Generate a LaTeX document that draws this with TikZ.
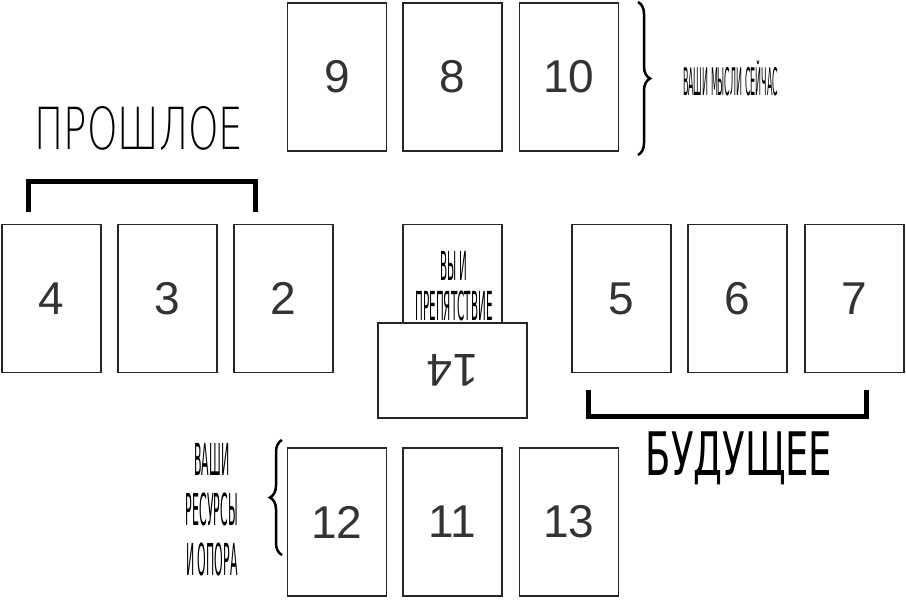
\documentclass[tikz,border=0pt]{standalone}
\usepackage{fontspec}
\setmainfont{Liberation Sans}
\newfontfamily\cond{DejaVu Sans}
\newfontfamily\thinf{DejaVu Sans}[UprightFont=* ExtraLight]
\usetikzlibrary{decorations.pathreplacing}
\begin{document}
\begin{tikzpicture}[x=1pt,y=-1pt,
  card/.style={draw=black!85,line width=1.5pt,fill=white,minimum width=99pt,minimum height=148pt,inner sep=0pt,font=\fontsize{46}{46}\selectfont,text=black!80},
  lbl/.style={font=\cond\fontsize{34}{34}\selectfont,xscale=0.5,align=center,inner sep=0pt},
  bigl/.style={font=\thinf\fontsize{58}{58}\selectfont,xscale=0.67,inner sep=0pt}]
\useasboundingbox (0,0) rectangle (906,600);
\fill[white] (0,0) rectangle (906,600);
\node[card] (c9) at (337,77) {9};
\node[card] (c8) at (452.5,77) {8};
\node[card] (c10) at (569,77) {10};
\node[card] (c4) at (51.5,298.5) {4};
\node[card] (c3) at (167.5,298.5) {3};
\node[card] (c2) at (283.5,298.5) {2};
\node[card] (c1) at (452.5,298.5) {1};
\node[card,minimum width=149pt,minimum height=95pt,rotate=180] (c14) at (452.5,370.5) {14};
\node[card] (c5) at (621.5,298.5) {5};
\node[card] (c6) at (737.5,298.5) {6};
\node[card] (c7) at (854.5,298.5) {7};
\node[card] (c12) at (337,522) {12};
\node[card] (c11) at (452.5,522) {11};
\node[card] (c13) at (569,522) {13};
\node[lbl,fill=white,font=\cond\fontsize{40}{40}\selectfont,xscale=0.52] (l1) at (454,286) {ВЫ И\\ПРЕПЯТСТВИЕ};
\draw[line width=2.5pt,decorate,decoration={brace,amplitude=12pt}] (638,2) -- (638,155);
\node[lbl,anchor=west,font=\cond\fontsize{38}{38}\selectfont,xscale=0.42] (l2) at (683,78) {ВАШИ МЫСЛИ СЕЙЧАС};
\draw[line width=2.5pt,decorate,decoration={brace,amplitude=12pt}] (282,555) -- (282,440);
\node[lbl,anchor=east,font=\cond\fontsize{44}{50}\selectfont,xscale=0.5] (l3) at (238,510) {ВАШИ\\РЕСУРСЫ\\И ОПОРА};
\node[bigl] (l4) at (139,128) {ПРОШЛОЕ};
\draw[line width=5pt] (28,212) -- (28,181) -- (255,181) -- (255,212);
\node[bigl,font=\cond\fontsize{60}{60}\selectfont,xscale=0.92] (l5) at (739,458) {БУДУЩЕЕ};
\draw[line width=5pt] (588,390) -- (588,416) -- (866,416) -- (866,390);
\end{tikzpicture}
\end{document}
